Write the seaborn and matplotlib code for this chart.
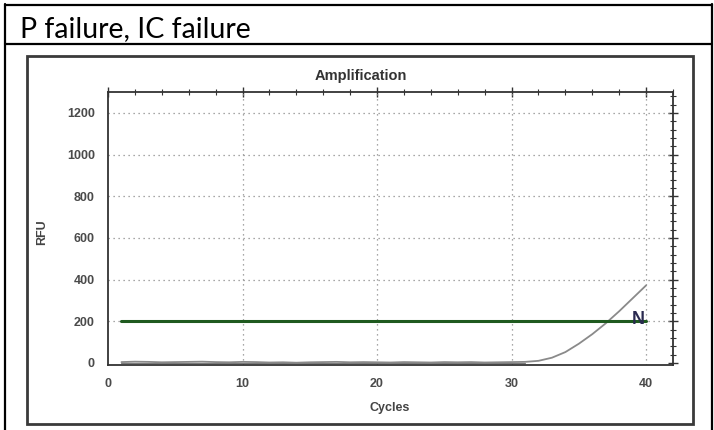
import numpy as np
import pandas as pd
import matplotlib
matplotlib.use("Agg")
import matplotlib.pyplot as plt
from matplotlib.ticker import AutoMinorLocator
from matplotlib.patches import Rectangle
from matplotlib.lines import Line2D
import seaborn as sns

# Amplification curve (RFU per cycle)
cycles = list(range(1, 41))
rfu = [4, 6, 5, 3, 4, 5, 6, 4, 3, 5, 4, 2, 3, 1, 3, 4, 5, 3, 4, 3,
       2, 4, 3, 2, 4, 3, 4, 2, 3, 4, 5, 10, 25, 52, 92, 138, 190, 248, 310, 372]
threshold = 200
threshold_span = [1, 40]
well_label = "N"
x_ticks = [0, 10, 20, 30, 40]
y_ticks = [0, 200, 400, 600, 800, 1000, 1200]

sns.set_theme(style="white")
plt.rcParams["font.family"] = ["Liberation Sans", "DejaVu Sans"]

df = pd.DataFrame({"Cycles": cycles, "RFU": rfu})
thr = pd.DataFrame({"Cycles": threshold_span, "RFU": [threshold, threshold]})

fig = plt.figure(figsize=(7.14, 4.30), dpi=100)
W, H = 714, 430

def fx(px):
    return px / W

def fy(py):
    return 1 - py / H

# table-like frame with heading row
fig.add_artist(Line2D([fx(5), fx(5)], [fy(4), fy(430)], color="black", lw=1.6))
fig.add_artist(Line2D([fx(712), fx(712)], [fy(4), fy(430)], color="black", lw=1.6))
fig.add_artist(Line2D([fx(5), fx(712)], [fy(5), fy(5)], color="black", lw=1.6))
fig.add_artist(Line2D([fx(5), fx(712)], [fy(44), fy(44)], color="black", lw=1.6))
fig.text(fx(20), fy(37), "P failure, IC failure", fontsize=20.5,
         family=["Lato", "DejaVu Sans"], va="baseline", ha="left", color="black")

# chart panel border
fig.add_artist(Rectangle((fx(27), fy(424)), fx(693) - fx(27), fy(56) - fy(424),
                         fill=False, edgecolor="#3a3a3a", lw=2.0))

ax = fig.add_axes([fx(108), fy(365), fx(673) - fx(108), fy(92) - fy(365)])

sns.lineplot(data=df, x="Cycles", y="RFU", ax=ax, color="#8a8a8a", lw=1.3, zorder=3)
ax.plot(cycles[:31], [0] * 31, color="#222222", lw=0.8, zorder=2, alpha=0.6)
sns.lineplot(data=thr, x="Cycles", y="RFU", ax=ax, color="#1f5a1f", lw=2.2, zorder=4)
ax.text(threshold_span[1] - 0.1, threshold + 10, well_label, ha="right", va="center",
        fontsize=13, fontweight="bold", color="#2a2a50", zorder=5)

ax.set_xlim(0, 42)
ax.set_ylim(-10, 1300)
ax.set_xticks(x_ticks)
ax.set_yticks(y_ticks)
ax.xaxis.set_minor_locator(AutoMinorLocator(5))
ax.yaxis.set_minor_locator(AutoMinorLocator(5))
ax.tick_params(which="both", direction="inout", top=True, right=True,
               color="#333333", labelsize=9, labelcolor="#4a4a4a")
ax.tick_params(which="major", length=7, width=1.0, pad=6)
ax.tick_params(which="minor", length=4, width=0.8)
for lbl in ax.get_xticklabels() + ax.get_yticklabels():
    lbl.set_fontweight("bold")

for s in ax.spines.values():
    s.set_color("#333333")
    s.set_linewidth(1.3)

for xv in x_ticks[1:]:
    ax.axvline(xv, color="#8a8a8a", lw=0.9, ls=(0, (1, 3)), zorder=1)
for yv in y_ticks[1:]:
    ax.axhline(yv, color="#8a8a8a", lw=0.9, ls=(0, (1, 3)), zorder=1)

ax.set_xlabel("")
ax.set_ylabel("")
fig.text(fx(361), fy(76), "Amplification", ha="center", va="center",
         fontsize=10.5, fontweight="bold", color="#333333")
fig.text(fx(390), fy(408), "Cycles", ha="center", va="center",
         fontsize=9, fontweight="bold", color="#444444")
fig.text(fx(42), fy(232), "RFU", ha="center", va="center", rotation=90,
         fontsize=9, fontweight="bold", color="#444444")

fig.savefig("out.png", dpi=100)
